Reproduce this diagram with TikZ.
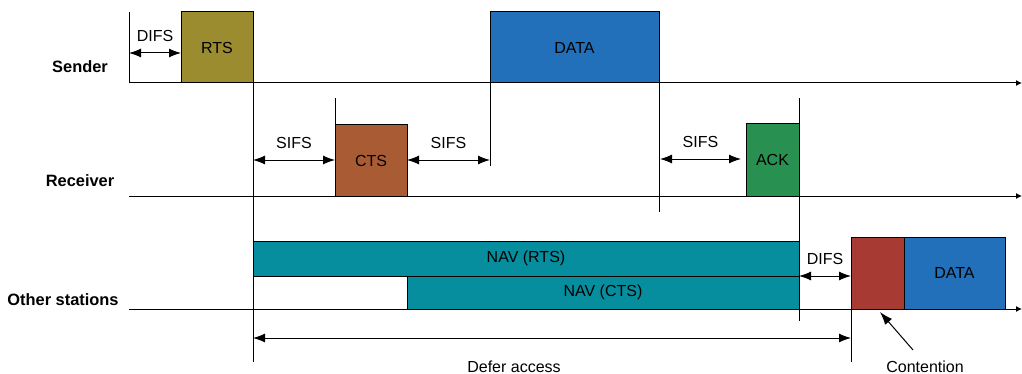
\documentclass[tikz,border=0pt]{standalone}
\usepackage{fontspec}
\setmainfont{Liberation Sans}
\usepackage{tikz}
\usetikzlibrary{arrows.meta}
\definecolor{rtscol}{RGB}{155,140,48}
\definecolor{ctscol}{RGB}{169,92,52}
\definecolor{datacol}{RGB}{34,112,186}
\definecolor{ackcol}{RGB}{40,145,82}
\definecolor{navcol}{RGB}{6,142,158}
\definecolor{contcol}{RGB}{168,58,52}
\tikzset{
  box/.style={draw=black, line width=0.5pt},
  lbl/.style={font=\fontsize{8}{9}\selectfont},
  station/.style={font=\fontsize{8.2}{9}\selectfont\bfseries},
  gap/.style={line width=0.5pt, {Latex[length=6pt,width=4.5pt]}-{Latex[length=6pt,width=4.5pt]}},
  axis/.style={line width=0.5pt, -{Latex[length=3pt,width=3pt]}},
  tick/.style={line width=0.5pt},
}

\begin{document}
\begin{tikzpicture}[x=0.5pt,y=-0.5pt]
		\useasboundingbox (0,0) rectangle (1022,374);
		% lignes de temps
		\coordinate (s0) at (129,83);
		\coordinate (r0) at (129,196);
		\coordinate (o0) at (129,309);
		\coordinate (s1) at (1022,83);
		\coordinate (r1) at (1022,196);
		\coordinate (o1) at (1022,309);
		\draw[axis] (s0) -- (s1);
		\draw[axis] (r0) -- (r1);
		\draw[axis] (o0) -- (o1);
		\node[station] (sender) at (80,67) {Sender};
		\node[station] (receiver) at (80,181) {Receiver};
		\node[station] (other) at (63,300) {Other stations};
		% trames
		\draw[box, fill=rtscol] (181,12) rectangle (253,83) node[midway, lbl] (rts) {RTS};
		\draw[box, fill=datacol] (490,12) rectangle (659,83) node[midway, lbl] (data) {DATA};
		\draw[box, fill=ctscol] (335,125) rectangle (407,196) node[midway, lbl] (cts) {CTS};
		\draw[box, fill=ackcol] (746,124) rectangle (799,196) node[midway, lbl] (ack) {ACK};
		\draw[box, fill=navcol] (253,241) rectangle (799,276) node[midway, lbl] (navrts) {NAV (RTS)};
		\draw[box, fill=navcol] (407,276) rectangle (799,309) node[midway, lbl] (navcts) {NAV (CTS)};
		\draw[box, fill=contcol] (851,237) rectangle (904,309) node[midway] (cont) {};
		\draw[box, fill=datacol] (904,237) rectangle (1005,309) node[midway, lbl] (data2) {DATA};
		% traits verticaux
		\draw[tick] (129,12) -- (s0);
		\draw[tick] (253,83) -- (253,362);
		\draw[tick] (335,98) -- (335,125);
		\draw[tick] (490,83) -- (490,166);
		\draw[tick] (659,83) -- (659,212);
		\draw[tick] (799,98) -- (799,321);
		\draw[tick] (851,309) -- (851,362);
		% intervalles
		\draw[gap] (129,53) -- (181,53) node[midway, above=2pt, lbl] (difs1) {DIFS};
		\draw[gap] (253,160) -- (335,160) node[midway, above=2pt, lbl] (sifs1) {SIFS};
		\draw[gap] (407,160) -- (490,160) node[midway, above=2pt, lbl] (sifs2) {SIFS};
		\draw[gap] (660,159) -- (741,159) node[midway, above=2pt, lbl] (sifs3) {SIFS};
		\draw[gap] (799,276) -- (851,276) node[midway, above=2pt, lbl] (difs2) {DIFS};
		\draw[gap] (253,338) -- (851,338);
		%texte
		\node[lbl] (defer) at (514,367) {Defer access};
		\node[lbl] (contlbl) at (925,367) {Contention};
		\draw[line width=0.5pt, -{Latex[length=6.5pt,width=4.5pt]}] (913,350) -- (880,312);
	\end{tikzpicture}
\end{document}
